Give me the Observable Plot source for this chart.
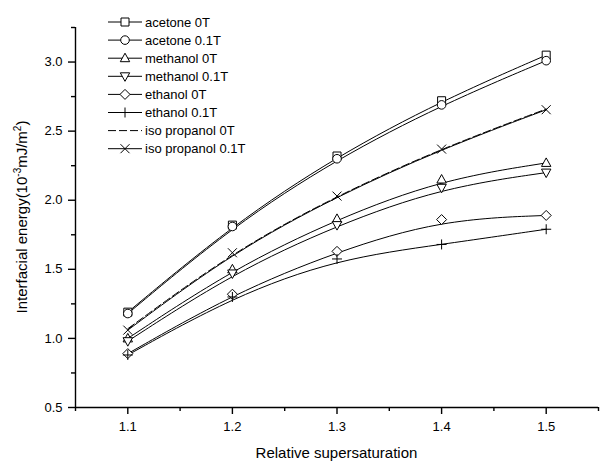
<!DOCTYPE html>
<html>
<head>
<meta charset="utf-8">
<script src="https://cdn.jsdelivr.net/npm/d3@7"></script>
<script src="https://cdn.jsdelivr.net/npm/@observablehq/plot@0.6"></script>
<style>
  html, body { margin: 0; padding: 0; background: #fff; }
  svg { display: block; }
</style>
</head>
<body>
<div id="chart"></div>
<script>
// ---- data ----
const supersaturation = [1.1, 1.2, 1.3, 1.4, 1.5];
const seriesNames = ["acetone 0T", "acetone 0.1T", "methanol 0T", "methanol 0.1T",
                     "ethanol 0T", "ethanol 0.1T", "iso propanol 0T", "iso propanol 0.1T"];
const acetone0T     = [1.19, 1.82, 2.32, 2.72, 3.05];
const acetone01T    = [1.18, 1.81, 2.30, 2.69, 3.01];
const methanol0T    = [1.00, 1.50, 1.865, 2.15, 2.27];
const methanol01T   = [0.98, 1.47, 1.82, 2.09, 2.20];
const ethanol0T     = [0.89, 1.32, 1.63, 1.86, 1.89];
const ethanol01T    = [0.88, 1.30, 1.575, 1.68, 1.79];
const isopropanol0T = [1.07, 1.625, 2.035, 2.375, 2.66];
const isopropanol01T= [1.06, 1.62, 2.03, 2.37, 2.655];
const xTicks = [1.1, 1.2, 1.3, 1.4, 1.5];
const xMinorTicks = [1.05, 1.15, 1.25, 1.35, 1.45, 1.55];
const yTicks = [0.5, 1.0, 1.5, 2.0, 2.5, 3.0];
const yMinorTicks = [0.75, 1.25, 1.75, 2.25, 2.75, 3.25];

const seriesValues = [acetone0T, acetone01T, methanol0T, methanol01T,
                      ethanol0T, ethanol01T, isopropanol0T, isopropanol01T];

// ---- layout ----
const W = 600, H = 461, MT = 27, MB = 54, ML = 75, MR = 2;
const FW = W - ML - MR, FH = H - MT - MB;
const MAJOR = 7, MINOR = 4, AXW = 1.4;

// ---- styles: hollow marker shapes of fixed pixel size ----
const mk = f => ({draw(c) { f(c); }});
const sqSym = mk(c => { c.moveTo(-4, -4); c.lineTo(4, -4); c.lineTo(4, 4); c.lineTo(-4, 4); c.closePath(); });
const circSym = mk(c => { c.moveTo(4.3, 0); c.arc(0, 0, 4.3, 0, 2 * Math.PI); });
const triUp = mk(c => { c.moveTo(0, -5); c.lineTo(4.7, 3.5); c.lineTo(-4.7, 3.5); c.closePath(); });
const triDown = mk(c => { c.moveTo(0, 5); c.lineTo(4.7, -3.5); c.lineTo(-4.7, -3.5); c.closePath(); });
const diamSym = mk(c => { c.moveTo(0, -5); c.lineTo(5, 0); c.lineTo(0, 5); c.lineTo(-5, 0); c.closePath(); });
const plusSym = mk(c => { c.moveTo(-5, 0); c.lineTo(5, 0); c.moveTo(0, -5); c.lineTo(0, 5); });
const timesSym = mk(c => { c.moveTo(-4.5, -4.5); c.lineTo(4.5, 4.5); c.moveTo(-4.5, 4.5); c.lineTo(4.5, -4.5); });

const symbolFor = {
  "acetone 0T": sqSym,
  "acetone 0.1T": circSym,
  "methanol 0T": triUp,
  "methanol 0.1T": triDown,
  "ethanol 0T": diamSym,
  "ethanol 0.1T": plusSym,
  "iso propanol 0T": null,
  "iso propanol 0.1T": timesSym
};
const FONT = "'Liberation Sans', Arial, Helvetica, sans-serif";

const rows = [];
seriesNames.forEach((name, i) => {
  seriesValues[i].forEach((v, j) => rows.push({series: name, x: supersaturation[j], y: v}));
});

const marks = [];
seriesNames.forEach(name => {
  const d = rows.filter(r => r.series === name);
  const dashed = symbolFor[name] === null;
  marks.push(Plot.line(d, {x: "x", y: "y", curve: "basis", stroke: "#000", strokeWidth: 1,
    strokeDasharray: dashed ? "8,3" : null}));
});
seriesNames.forEach(name => {
  const sym = symbolFor[name];
  if (!sym) return;
  const d = rows.filter(r => r.series === name);
  marks.push(Plot.dot(d, {x: "x", y: "y", symbol: () => sym, r: 4, fill: "white", stroke: "#000", strokeWidth: 1}));
});

const chart = Plot.plot({
  width: W,
  height: H,
  marginTop: MT,
  marginBottom: MB,
  marginLeft: ML,
  marginRight: MR,
  style: {fontFamily: FONT, background: "white", color: "#000"},
  x: {domain: [1.05, 1.55], label: null},
  y: {domain: [0.5, 3.25], label: null},
  symbol: {type: "identity"},
  marks: [
    Plot.axisX(xTicks, {tickFormat: d => d.toFixed(1), tickSize: 0, tickPadding: 14, fontSize: 13, label: null}),
    Plot.axisY(yTicks, {tickFormat: d => d.toFixed(1), tickSize: 0, tickPadding: 13, fontSize: 13, label: null}),
    // outward tick marks
    Plot.tickX(xTicks, {x: d => d, insetTop: FH - MAJOR, dy: MAJOR, stroke: "#000", strokeWidth: AXW}),
    Plot.tickX(xMinorTicks, {x: d => d, insetTop: FH - MINOR, dy: MINOR, stroke: "#000", strokeWidth: AXW}),
    Plot.tickY(yTicks, {y: d => d, insetRight: FW - MAJOR, dx: -MAJOR, stroke: "#000", strokeWidth: AXW}),
    Plot.tickY(yMinorTicks, {y: d => d, insetRight: FW - MINOR, dx: -MINOR, stroke: "#000", strokeWidth: AXW}),
    Plot.ruleX([1.05], {stroke: "#000", strokeWidth: AXW}),
    Plot.ruleY([0.5], {stroke: "#000", strokeWidth: AXW}),
    ...marks
  ]
});

document.getElementById("chart").appendChild(chart);

// ---- titles and legend, placed from the scales ----
const sx = chart.scale("x"), sy = chart.scale("y");
const svg = d3.select(chart);
const x0 = sx.apply(1.05), x1 = sx.apply(1.55);
const y0 = sy.apply(0.5), y1 = sy.apply(3.25);

svg.append("text")
  .attr("x", (x0 + x1) / 2).attr("y", y0 + 51)
  .attr("text-anchor", "middle")
  .attr("font-family", FONT).attr("font-size", 15).attr("fill", "#000")
  .text("Relative supersaturation");

const yt = svg.append("text")
  .attr("transform", `translate(27,${(y0 + y1) / 2}) rotate(-90)`)
  .attr("text-anchor", "middle")
  .attr("font-family", FONT).attr("font-size", 15).attr("fill", "#000");
yt.append("tspan").text("Interfacial energy(10");
yt.append("tspan").attr("dy", -6).attr("font-size", 10).text("-3");
yt.append("tspan").attr("dy", 6).text("mJ/m");
yt.append("tspan").attr("dy", -6).attr("font-size", 10).text("2");
yt.append("tspan").attr("dy", 6).text(")");

const lg = svg.append("g").attr("transform", `translate(${x0 + 33},${y1 - 5})`);
seriesNames.forEach((name, i) => {
  const row = lg.append("g").attr("transform", `translate(0,${i * 18.1})`);
  const sym = symbolFor[name];
  row.append("line").attr("x1", 0).attr("x2", 34).attr("y1", 0).attr("y2", 0)
    .attr("stroke", "#000").attr("stroke-width", 1)
    .attr("stroke-dasharray", sym ? null : "8,3");
  if (sym) {
    row.append("path").attr("transform", "translate(17,0)")
      .attr("d", d3.symbol(sym, 50)())
      .attr("fill", "white").attr("stroke", "#000").attr("stroke-width", 1);
  }
  row.append("text").attr("x", 37).attr("y", 0).attr("dy", "0.35em")
    .attr("text-anchor", "start")
    .attr("font-family", FONT).attr("font-size", 13).attr("fill", "#000")
    .text(name);
});
</script>
</body>
</html>
